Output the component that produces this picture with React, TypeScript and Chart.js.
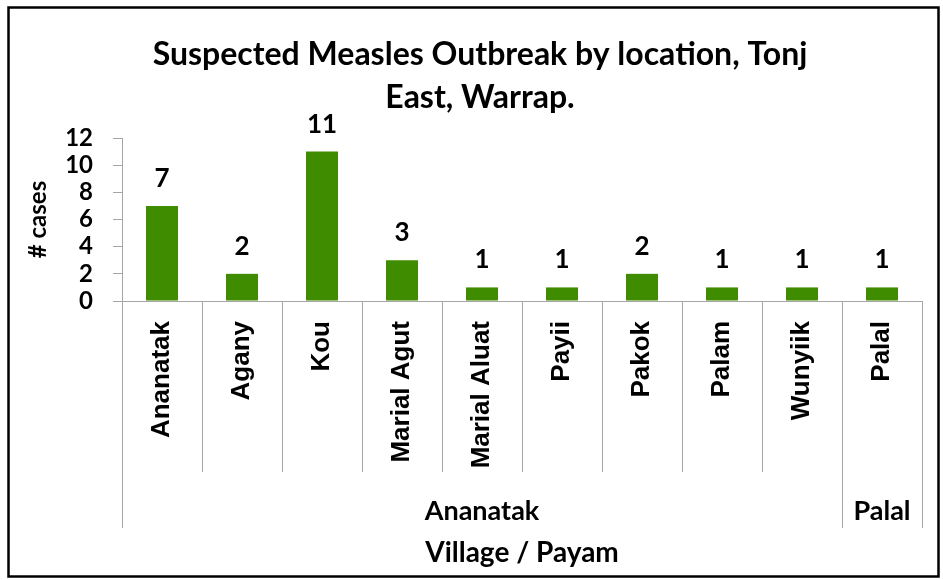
import React, { useEffect, useRef } from "react";
import { Chart, registerables } from "chart.js";
Chart.register(...registerables);

const categories = ["Ananatak", "Agany", "Kou", "Marial Agut", "Marial Aluat", "Payii", "Pakok", "Palam", "Wunyiik", "Palal"];
const cases = [7, 2, 11, 3, 1, 1, 2, 1, 1, 1];
const groups = ["Ananatak", "Palal"];
const groupSizes = [9, 1];
const yMax = 12;
const yStep = 2;
const titleLines = ["Suspected Measles Outbreak by location, Tonj", "East, Warrap."];
const yTitle = "# cases";
const xTitle = "Village / Payam";

const LATO = "Lato, Calibri, 'DejaVu Sans', sans-serif";
const ARIAL = "'Liberation Sans', Arial, sans-serif";
const GRAY = "#a6a6a6";

const overlay = {
  id: "overlay",
  afterDraw(chart: any) {
    const ctx = chart.ctx as CanvasRenderingContext2D;
    const xs = chart.scales.x;
    const ys = chart.scales.y;
    const n = categories.length;
    const step = xs.getPixelForValue(1) - xs.getPixelForValue(0);
    const base = ys.getPixelForValue(0);
    ctx.save();
    // separators
    const bounds = new Set<number>([0]);
    let acc = 0;
    groupSizes.forEach((g) => { acc += g; bounds.add(acc); });
    ctx.strokeStyle = GRAY;
    ctx.lineWidth = 1;
    for (let i = 0; i <= n; i++) {
      const x = Math.round(xs.getPixelForValue(Math.min(i, n - 1)) + (i === n ? step / 2 : -step / 2)) + 0.5;
      const bottom = bounds.has(i) ? base + 227 : base + 171;
      ctx.beginPath();
      ctx.moveTo(x, base);
      ctx.lineTo(x, bottom);
      ctx.stroke();
    }
    // data labels
    ctx.fillStyle = "#000";
    ctx.font = `bold 26px ${LATO}`;
    ctx.textAlign = "center";
    ctx.textBaseline = "alphabetic";
    const meta = chart.getDatasetMeta(0);
    meta.data.forEach((bar: any, i: number) => {
      ctx.fillText(String(cases[i]), bar.x, bar.y - 19);
    });
    // group labels
    ctx.font = `bold 27px ${LATO}`;
    ctx.textBaseline = "middle";
    let start = 0;
    groups.forEach((g, gi) => {
      const end = start + groupSizes[gi];
      const x0 = xs.getPixelForValue(start) - step / 2;
      const x1 = xs.getPixelForValue(end - 1) + step / 2;
      ctx.fillText(g, (x0 + x1) / 2, base + 210);
      start = end;
    });
    // x title
    ctx.font = `bold 28px ${LATO}`;
    ctx.fillText(xTitle, (xs.left + xs.right) / 2, 553);
    // y title
    ctx.font = `bold 24px ${LATO}`;
    ctx.save();
    ctx.translate(38, (ys.top + ys.bottom) / 2);
    ctx.rotate(-Math.PI / 2);
    ctx.fillText(yTitle, 0, 0);
    ctx.restore();
    // title
    ctx.font = `bold 32px ${LATO}`;
    ctx.fillText(titleLines[0], 480, 55);
    ctx.fillText(titleLines[1], 480, 98);
    // border
    ctx.strokeStyle = "#000";
    ctx.lineWidth = 2.5;
    ctx.strokeRect(8.5, 7.5, 930, 569);
    ctx.restore();
  },
};

export default function App() {
  const ref = useRef<HTMLCanvasElement | null>(null);
  useEffect(() => {
    if (!ref.current) return;
    const chart = new Chart(ref.current, {
      type: "bar",
      data: {
        labels: categories,
        datasets: [
          {
            data: cases,
            backgroundColor: "#3f8c00",
            barPercentage: 0.4,
            categoryPercentage: 1,
          },
        ],
      },
      options: {
        responsive: false,
        animation: false,
        devicePixelRatio: 1,
        layout: { padding: { top: 138, left: 0, right: 21, bottom: 0 } },
        plugins: { legend: { display: false }, tooltip: { enabled: false }, title: { display: false } },
        scales: {
          x: {
            afterFit: (s: any) => { s.height = 279; },
            grid: { drawOnChartArea: false, drawTicks: false },
            border: { display: true, color: GRAY, width: 1 },
            ticks: {
              autoSkip: false,
              minRotation: 90,
              maxRotation: 90,
              padding: 20,
              color: "#000",
              font: { family: ARIAL, size: 26, weight: "bold" },
            },
          },
          y: {
            min: 0,
            max: yMax,
            afterFit: (s: any) => { s.width = 122; },
            grid: { drawOnChartArea: false, drawTicks: true, tickLength: 9, color: GRAY },
            border: { display: true, color: GRAY, width: 1 },
            ticks: {
              stepSize: yStep,
              autoSkip: false,
              padding: 20,
              color: "#000",
              font: { family: LATO, size: 24, weight: "bold" },
            },
          },
        },
      },
      plugins: [overlay],
    });
    return () => chart.destroy();
  }, []);
  return (
    <div style={{ position: "fixed", left: 0, top: 0, width: 943, height: 580, background: "#fff" }}>
      <canvas ref={ref} width={943} height={580} style={{ width: 943, height: 580, display: "block" }} />
    </div>
  );
}
